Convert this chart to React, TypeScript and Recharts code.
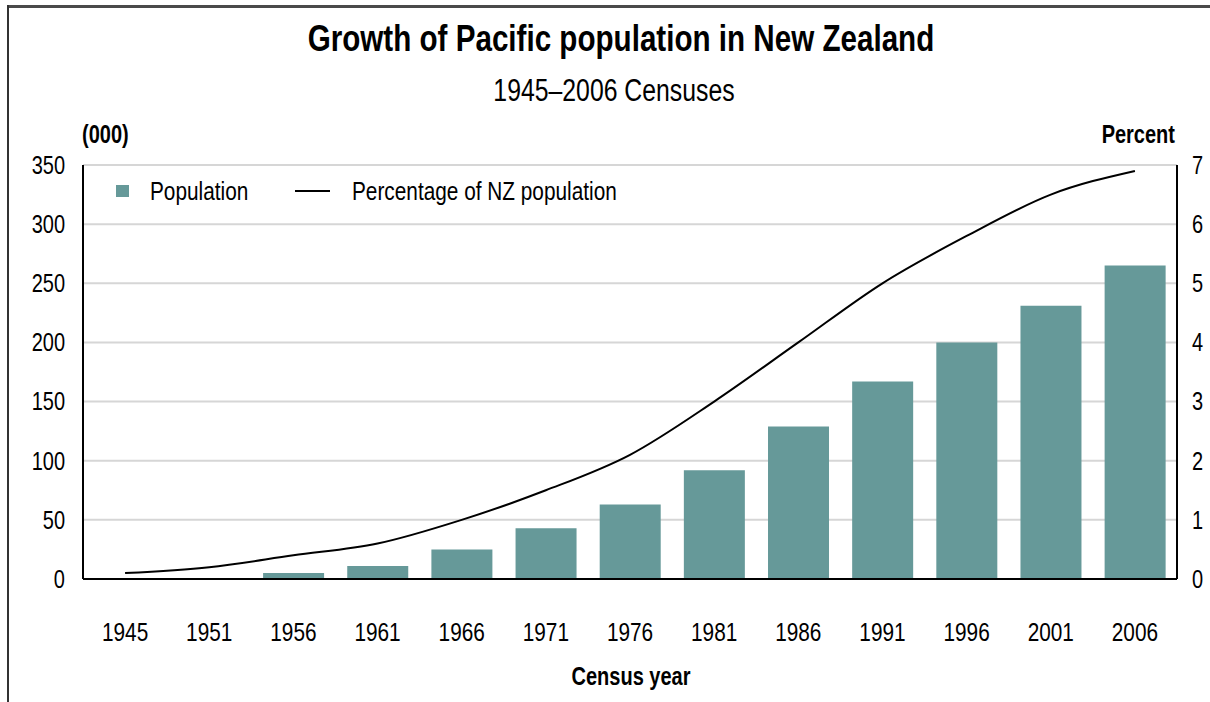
import React from 'react'
import { ComposedChart, Bar, Line, XAxis, YAxis, CartesianGrid } from 'recharts'

// Pacific population in NZ, 1945-2006 censuses
const YEARS = ['1945', '1951', '1956', '1961', '1966', '1971', '1976', '1981', '1986', '1991', '1996', '2001', '2006']
// population (000)
const POPULATION = [0, 0, 5, 11, 25, 43, 63, 92, 129, 167, 200, 231, 265]
// percentage of NZ population
const PERCENT = [0.1, 0.2, 0.4, 0.6, 1.0, 1.5, 2.1, 3.0, 4.0, 5.0, 5.8, 6.5, 6.9]

const LEFT_TICKS = [0, 50, 100, 150, 200, 250, 300, 350]
const RIGHT_TICKS = [0, 1, 2, 3, 4, 5, 6, 7]

// no narrow font installed -> squeeze Liberation Sans horizontally
const FONT = '"Liberation Sans", Arial, sans-serif'
const SQUEEZE = 0.8
const TEAL = '#669999'

const data = YEARS.map((year, i) => ({
  year,
  pop: POPULATION[i],
  pct: PERCENT[i],
}))

function NarrowTick(props: any) {
  const { x, y, payload, textAnchor, dyEm, size = 25 } = props
  return (
    <g transform={`translate(${x},${y})`}>
      <text
        transform={`scale(${SQUEEZE},1)`}
        textAnchor={textAnchor}
        dy={dyEm}
        fontSize={size}
        fontFamily={FONT}
        fill="#000"
      >
        {payload.value}
      </text>
    </g>
  )
}

// text block squeezed around a given anchor
function Label({ x, y, children, size, bold, align = 'center' }: any) {
  const origin = align === 'center' ? 'center' : align === 'left' ? 'left' : 'right'
  const tx = align === 'center' ? '-50%' : align === 'left' ? '0' : '-100%'
  return (
    <div
      style={{
        position: 'absolute', left: x, top: y, whiteSpace: 'nowrap', lineHeight: 1,
        transform: `translate(${tx}, -50%)`,
      }}
    >
      <div
        style={{
          fontFamily: FONT, fontSize: size, fontWeight: bold ? 'bold' : 'normal', color: '#000',
          transform: `scaleX(${SQUEEZE})`, transformOrigin: origin,
        }}
      >
        {children}
      </div>
    </div>
  )
}

export default function App() {
  return (
    <div style={{ position: 'absolute', left: 0, top: 0, width: 1210, height: 702, background: '#fff', overflow: 'hidden' }}>
      {/* frame: top and left only */}
      <div style={{ position: 'absolute', left: 7, top: 5, width: 1203, height: 3, background: '#4a4a4a' }} />
      <div style={{ position: 'absolute', left: 7, top: 5, width: 2, height: 697, background: '#333' }} />

      <ComposedChart
        width={1210}
        height={702}
        data={data}
        margin={{ top: 165, right: 0, left: 0, bottom: 0 }}
        barCategoryGap="14%"
        style={{ position: 'absolute', left: 0, top: 0 }}
      >
        <CartesianGrid vertical={false} stroke="#d6d6d6" strokeWidth={2} yAxisId="left" />
        <XAxis
          dataKey="year"
          height={123}
          tick={<NarrowTick dyEm="0.71em" size={26} />}
          tickSize={0}
          tickMargin={44}
          axisLine={{ stroke: '#000', strokeWidth: 2 }}
          tickLine={false}
        />
        <YAxis
          yAxisId="left"
          width={83}
          domain={[0, 350]}
          ticks={LEFT_TICKS}
          tick={<NarrowTick dyEm="0.355em" />}
          tickSize={0}
          tickMargin={18}
          tickLine={false}
          axisLine={{ stroke: '#000', strokeWidth: 2 }}
        />
        <YAxis
          yAxisId="right"
          orientation="right"
          width={33}
          domain={[0, 7]}
          ticks={RIGHT_TICKS}
          tick={<NarrowTick dyEm="0.355em" />}
          tickSize={0}
          tickMargin={15}
          tickLine={false}
          axisLine={{ stroke: '#000', strokeWidth: 2 }}
        />
        <Bar yAxisId="left" dataKey="pop" name="Population" fill={TEAL} isAnimationActive={false} />
        <Line
          yAxisId="right"
          dataKey="pct"
          name="Percentage of NZ population"
          type="monotone"
          stroke="#000"
          strokeWidth={2}
          dot={false}
          isAnimationActive={false}
        />
      </ComposedChart>

      <Label x={621} y={38} size={37} bold>Growth of Pacific population in New Zealand</Label>
      <Label x={614} y={90} size={31}>1945–2006 Censuses</Label>
      <Label x={82} y={134} size={25} bold align="left">(000)</Label>
      <Label x={1175} y={134} size={25} bold align="right">Percent</Label>
      <Label x={631} y={676} size={25} bold>Census year</Label>

      {/* legend */}
      <div style={{ position: 'absolute', left: 116, top: 185, width: 13, height: 12, background: TEAL }} />
      <Label x={150} y={191} size={26} align="left">Population</Label>
      <div style={{ position: 'absolute', left: 295, top: 190, width: 35, height: 2, background: '#000' }} />
      <Label x={352} y={191} size={26} align="left">Percentage of NZ population</Label>
    </div>
  )
}
